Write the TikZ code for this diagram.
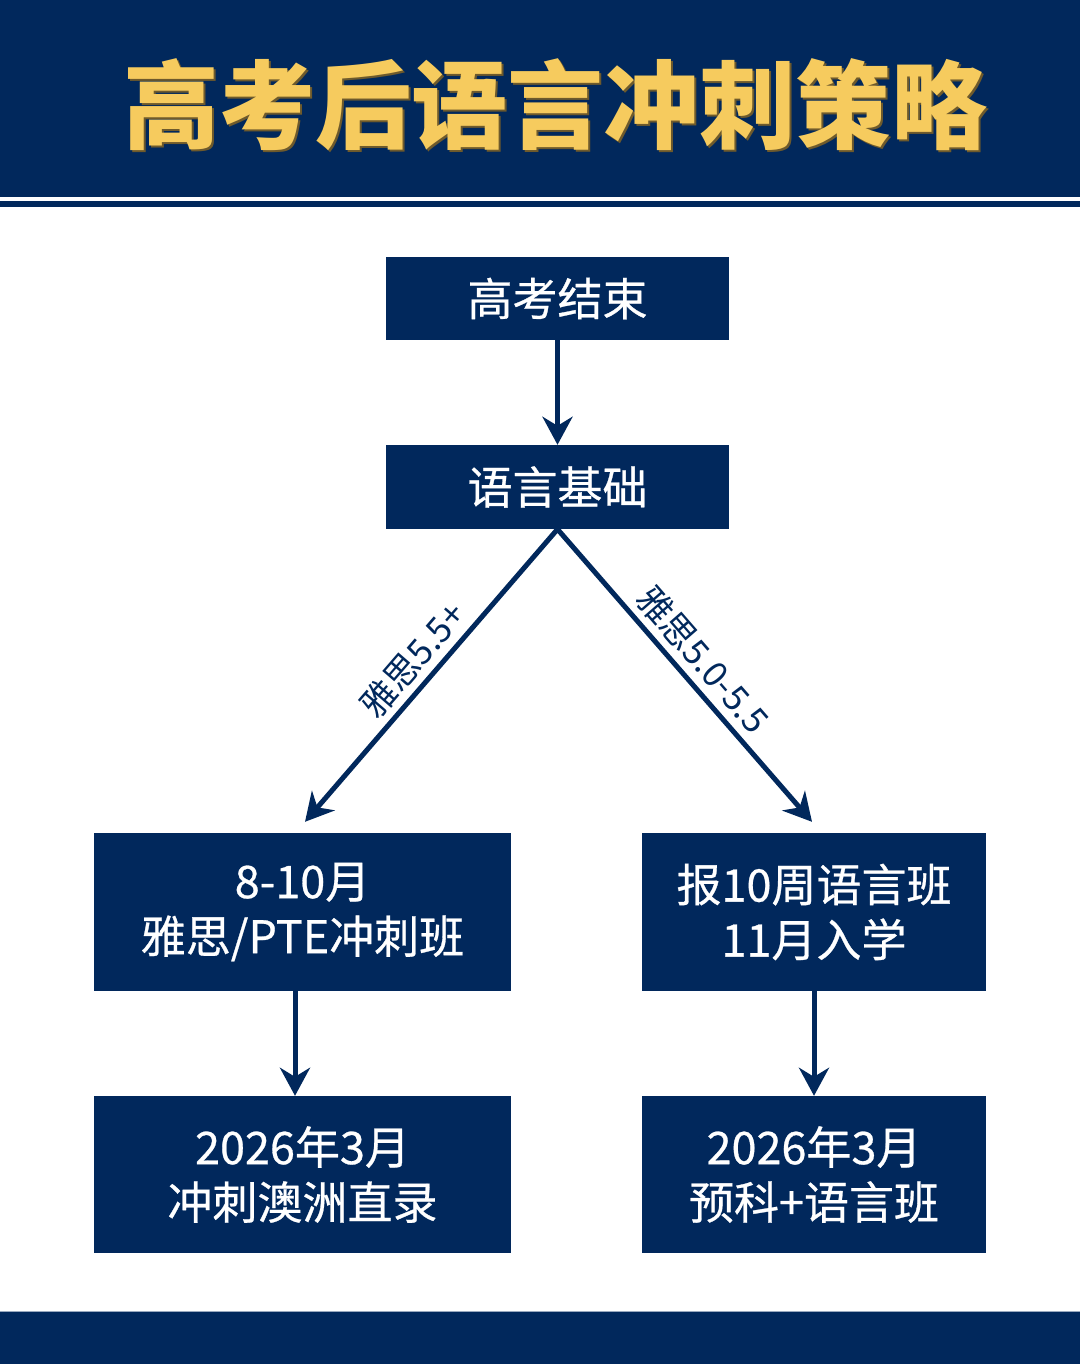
\documentclass[tikz,border=0pt]{standalone}
\usepackage{fontspec}
\usetikzlibrary{arrows.meta,calc}
\newfontfamily\cjk{Noto Sans CJK SC}
\newfontfamily\cjkm[FakeBold=0.6]{Noto Sans CJK SC}
\definecolor{navy}{HTML}{01285C}
\definecolor{gold}{HTML}{F6CB5E}
\definecolor{goldshadow}{HTML}{6E5A2C}
\begin{document}
\begin{tikzpicture}[x=1pt,y=1pt,
  box/.style={fill=navy, text=white, minimum width=#1, align=center, inner sep=0pt,
    font=\cjkm\fontsize{45}{55}\selectfont},
  conn/.style={draw=navy, line width=5pt, -{Stealth[length=28pt,width=30pt,inset=9pt]}},
  lab/.style={sloped, above=2pt, text=navy, inner sep=4pt, font=\cjk\fontsize{35}{37}\selectfont}]
\useasboundingbox (0,0) rectangle (1080,-1364);
\fill[white] (0,0) rectangle (1080,-1364);
% header
\fill[navy] (0,0) rectangle (1080,-197.5);
\fill[navy] (0,-201.5) rectangle (1080,-207.5);
\node[text=goldshadow, font=\cjk\bfseries\fontsize{96}{100}\selectfont] (titleshadow) at (557,-106.5) {高考后语言冲刺策略};
\node[text=gold, font=\cjk\bfseries\fontsize{96}{100}\selectfont] (title) at (555,-104.5) {高考后语言冲刺策略};
% footer
\fill[navy] (0,-1311) rectangle (1080,-1364);
\draw[color=navy!40!white, line width=1pt] (0,-1311) -- (1080,-1311);
% boxes
\node[box=343pt, minimum height=83pt] (b1) at (557.5,-298.5) {高考结束};
\node[box=343pt, minimum height=84pt] (b2) at (557.5,-487) {语言基础};
\node[box=417pt, minimum height=158pt] (b3) at (302.5,-912) {8-10月\\雅思/PTE冲刺班};
\node[box=344pt, minimum height=158pt] (b4) at (814,-912) {报10周语言班\\11月入学};
\node[box=417pt, minimum height=157pt] (b5) at (302.5,-1174.5) {2026年3月\\冲刺澳洲直录};
\node[box=344pt, minimum height=157pt] (b6) at (814,-1174.5) {2026年3月\\预科+语言班};
% connectors
\draw[conn] (b1.south) -- (b2.north);
\draw[conn] (b2.south) -- node[lab, pos=0.5] {雅思5.5+} ($(b3.north)+(2.5,11)$);
\draw[conn] (b2.south) -- node[lab, pos=0.5] {雅思5.0-5.5} ($(b4.north)+(-2,11)$);
\draw[conn] ($(b3.south)+(-7.5,0)$) -- ($(b5.north)+(-7.5,0)$);
\draw[conn] (b4.south) -- (b6.north);
\end{tikzpicture}
\end{document}
